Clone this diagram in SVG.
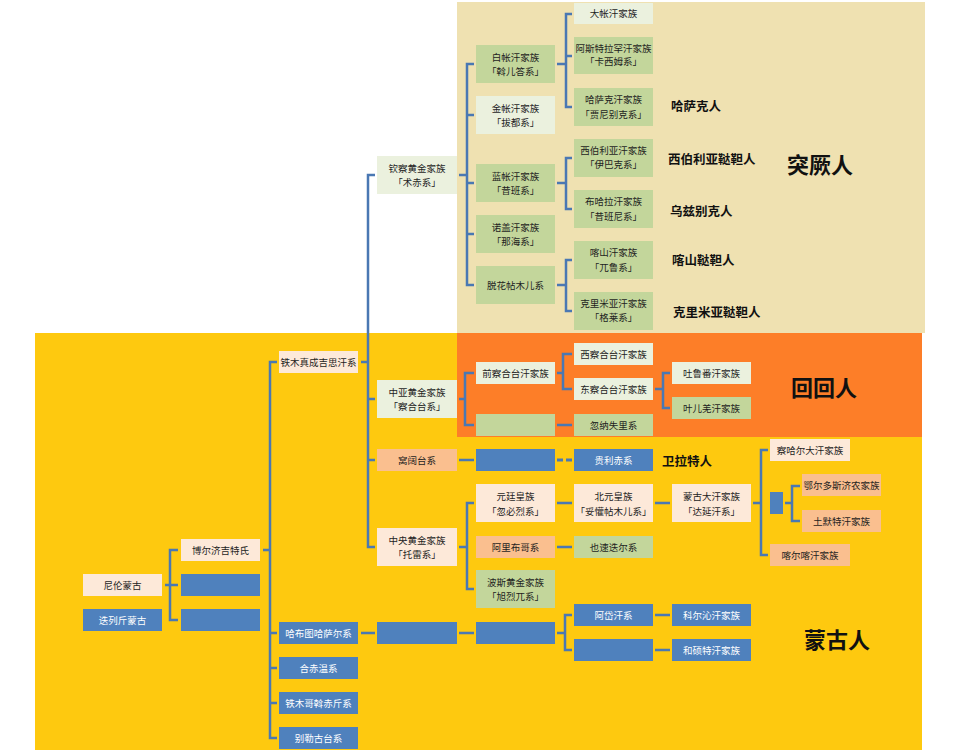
<svg xmlns="http://www.w3.org/2000/svg" width="963" height="752" viewBox="0 0 963 752">
<style>
text{font-family:"Noto Sans CJK SC","Noto Sans",sans-serif;font-size:9.5px;fill:#1e1e1e;text-anchor:middle}
.w{fill:#ffffff}
.lbl{font-size:12.5px;font-weight:bold;text-anchor:start;fill:#111}
.big{font-size:22px;font-weight:bold;fill:#111}
.g{fill:#c3d69b}
.lc{fill:#ebf1de}
.lp{fill:#fde9d9}
.p{fill:#fabf8f}
.b{fill:#4f81bd}
#connectors path{fill:none;stroke:#4a78b3;stroke-width:2.5}
</style>
<g id="backgrounds">
<rect x="0" y="0" width="963" height="752" fill="#ffffff"/>
<rect x="457" y="2" width="468" height="331" fill="#efe1b1"/>
<rect x="35" y="333" width="887" height="417" fill="#fec90f"/>
<rect x="457" y="333" width="465" height="104" fill="#fd7e28"/>
</g>
<g id="connectors">
<path d="M165 585 H178 M178 550 H170 V620 H178"/>
<path d="M263 550 H270 M277 362 H270 V738 H277 M270 633 H277 M270 668 H277 M270 703 H277"/>
<path d="M361 362 H368 M375 175 H368 V547 H375 M368 399 H375 M368 460 H375"/>
<path d="M459 175 H467 M474 64 H467 V285 H474 M467 115 H474 M467 183 H474 M467 234 H474"/>
<path d="M557 64 H566 M572 14 H566 V107 H572 M566 56 H572"/>
<path d="M557 183 H566 M572 158 H566 V209 H572"/>
<path d="M557 285 H566 M572 260 H566 V311 H572"/>
<path d="M459 399 H465 M474 373 H465 V425 H474"/>
<path d="M557 373 H563 M572 354 H563 V389 H572"/>
<path d="M557 425 H572"/>
<path d="M655 389 H663 M670 373 H663 V408 H670"/>
<path d="M459 460 H474"/>
<path d="M557 460 H572" style="stroke-dasharray:6 3;stroke-width:3"/>
<path d="M459 547 H467 M474 503 H467 V589 H474"/>
<path d="M557 503 H572 M655 503 H670 M557 547 H572"/>
<path d="M753 503 H761 M768 450 H761 V555 H768"/>
<path d="M785 503 H792 M800 486 H792 V521 H800"/>
<path d="M361 633 H375 M459 633 H474 M557 633 H565 M572 615 H565 V650 H572 M655 615 H670 M655 650 H670"/>
</g>
<g id="n-niren"><rect class="lp" x="83" y="574" width="79" height="22"/><text x="122.5" y="588.5">尼伦蒙古</text></g>
<g id="n-dielie"><rect class="b" x="83" y="609" width="79" height="22"/><text class="w" x="122.5" y="623.5">迭列斤蒙古</text></g>
<g id="n-boerjijite"><rect class="lp" x="181" y="539" width="79" height="22"/><text x="220.5" y="553.5">博尔济吉特氏</text></g>
<g id="n-blueB1"><rect class="b" x="181" y="574" width="79" height="22"/></g>
<g id="n-blueB2"><rect class="b" x="181" y="609" width="79" height="22"/></g>
<g id="n-temujin"><rect class="lp" x="279" y="351" width="79" height="22"/><text x="318.5" y="365.5">铁木真成吉思汗系</text></g>
<g id="n-habutu"><rect class="b" x="279" y="622" width="79" height="22"/><text class="w" x="318.5" y="636.5">哈布图哈萨尔系</text></g>
<g id="n-hechiwen"><rect class="b" x="279" y="657" width="79" height="22"/><text class="w" x="318.5" y="671.5">合赤温系</text></g>
<g id="n-temuge"><rect class="b" x="279" y="692" width="79" height="22"/><text class="w" x="318.5" y="706.5">铁木哥斡赤斤系</text></g>
<g id="n-belgutei"><rect class="b" x="279" y="727" width="79" height="22"/><text class="w" x="318.5" y="741.5">别勒古台系</text></g>
<g id="n-qincha"><rect class="lc" x="377" y="156" width="80" height="38"/><text x="417" y="171.5">钦察黄金家族</text><text x="417" y="185.5">「术赤系」</text></g>
<g id="n-zhongya"><rect class="lc" x="377" y="380" width="80" height="38"/><text x="417" y="395.5">中亚黄金家族</text><text x="417" y="409.5">「察合台系」</text></g>
<g id="n-wokuotai"><rect class="p" x="377" y="449" width="80" height="22"/><text x="417" y="463.5">窝阔台系</text></g>
<g id="n-tuolei"><rect class="lp" x="377" y="528" width="80" height="38"/><text x="417" y="543.5">中央黄金家族</text><text x="417" y="557.5">「托雷系」</text></g>
<g id="n-blueD"><rect class="b" x="377" y="622" width="80" height="22"/></g>
<g id="n-baizhang"><rect class="g" x="476" y="45" width="79" height="38"/><text x="515.5" y="60.5">白帐汗家族</text><text x="515.5" y="74.5">「斡儿答系」</text></g>
<g id="n-jinzhang"><rect class="lc" x="476" y="96" width="79" height="38"/><text x="515.5" y="111.5">金帐汗家族</text><text x="515.5" y="125.5">「拔都系」</text></g>
<g id="n-lanzhang"><rect class="g" x="476" y="164" width="79" height="38"/><text x="515.5" y="179.5">蓝帐汗家族</text><text x="515.5" y="193.5">「昔班系」</text></g>
<g id="n-nuogai"><rect class="g" x="476" y="215" width="79" height="38"/><text x="515.5" y="230.5">诺盖汗家族</text><text x="515.5" y="244.5">「那海系」</text></g>
<g id="n-tuohua"><rect class="g" x="476" y="266" width="79" height="38"/><text x="515.5" y="288.5">脱花帖木儿系</text></g>
<g id="n-qianchahetai"><rect class="lc" x="476" y="362" width="79" height="22"/><text x="515.5" y="376.5">前察合台汗家族</text></g>
<g id="n-greenE"><rect class="g" x="476" y="414" width="79" height="22"/></g>
<g id="n-blueE1"><rect class="b" x="476" y="449" width="79" height="22"/></g>
<g id="n-yuanting"><rect class="lp" x="476" y="484" width="79" height="38"/><text x="515.5" y="499.5">元廷皇族</text><text x="515.5" y="514.5">「忽必烈系」</text></g>
<g id="n-alibuge"><rect class="p" x="476" y="536" width="79" height="22"/><text x="515.5" y="550.5">阿里布哥系</text></g>
<g id="n-bosi"><rect class="g" x="476" y="570" width="79" height="38"/><text x="515.5" y="585.5">波斯黄金家族</text><text x="515.5" y="599.5">「旭烈兀系」</text></g>
<g id="n-blueE2"><rect class="b" x="476" y="622" width="79" height="22"/></g>
<g id="n-dazhang"><rect class="lc" x="574" y="3" width="79" height="21"/><text x="613.5" y="17">大帐汗家族</text></g>
<g id="n-asite"><rect class="g" x="574" y="37" width="79" height="37"/><text x="613.5" y="52">阿斯特拉罕汗家族</text><text x="613.5" y="65">「卡西姆系」</text></g>
<g id="n-hasake"><rect class="g" x="574" y="88" width="79" height="38"/><text x="613.5" y="103">哈萨克汗家族</text><text x="613.5" y="118">「贾尼别克系」</text></g>
<g id="n-xiboliya"><rect class="g" x="574" y="139" width="79" height="38"/><text x="613.5" y="154">西伯利亚汗家族</text><text x="613.5" y="167.5">「伊巴克系」</text></g>
<g id="n-buhala"><rect class="g" x="574" y="190" width="79" height="38"/><text x="613.5" y="205">布哈拉汗家族</text><text x="613.5" y="220">「昔班尼系」</text></g>
<g id="n-kashan"><rect class="g" x="574" y="241" width="79" height="38"/><text x="613.5" y="256">喀山汗家族</text><text x="613.5" y="271">「兀鲁系」</text></g>
<g id="n-kelimiya"><rect class="g" x="574" y="292" width="79" height="38"/><text x="613.5" y="307">克里米亚汗家族</text><text x="613.5" y="320.5">「格莱系」</text></g>
<g id="n-xichahetai"><rect class="lc" x="574" y="343" width="79" height="22"/><text x="613.5" y="357.5">西察合台汗家族</text></g>
<g id="n-dongchahetai"><rect class="lc" x="574" y="378" width="79" height="22"/><text x="613.5" y="392.5">东察合台汗家族</text></g>
<g id="n-hunashili"><rect class="g" x="574" y="414" width="79" height="22"/><text x="613.5" y="428.5">忽纳失里系</text></g>
<g id="n-guilichi"><rect class="b" x="574" y="449" width="79" height="22"/><text class="w" x="613.5" y="463.5">贵利赤系</text></g>
<g id="n-beiyuan"><rect class="lp" x="574" y="484" width="79" height="38"/><text x="613.5" y="499.5">北元皇族</text><text x="613.5" y="514.5">「妥懽帖木儿系」</text></g>
<g id="n-yesudier"><rect class="g" x="574" y="536" width="79" height="22"/><text x="613.5" y="550.5">也速迭尔系</text></g>
<g id="n-adai"><rect class="b" x="574" y="604" width="79" height="22"/><text class="w" x="613.5" y="618.5">阿岱汗系</text></g>
<g id="n-blueF"><rect class="b" x="574" y="639" width="79" height="22"/></g>
<g id="n-tulufan"><rect class="lc" x="672" y="362" width="79" height="22"/><text x="711.5" y="376.5">吐鲁番汗家族</text></g>
<g id="n-yeerqiang"><rect class="g" x="672" y="397" width="79" height="22"/><text x="711.5" y="411.5">叶儿羌汗家族</text></g>
<g id="n-mengguda"><rect class="lp" x="672" y="484" width="79" height="38"/><text x="711.5" y="499.5">蒙古大汗家族</text><text x="711.5" y="514.5">「达延汗系」</text></g>
<g id="n-keerqin"><rect class="b" x="672" y="604" width="79" height="22"/><text class="w" x="711.5" y="618.5">科尔沁汗家族</text></g>
<g id="n-heshuote"><rect class="b" x="672" y="639" width="79" height="22"/><text class="w" x="711.5" y="653.5">和硕特汗家族</text></g>
<g id="n-chahaer"><rect class="lp" x="770" y="439" width="80" height="22"/><text x="810" y="453.5">察哈尔大汗家族</text></g>
<g id="n-smallblue"><rect class="b" x="770" y="492" width="13" height="22"/></g>
<g id="n-kaerka"><rect class="p" x="770" y="544" width="80" height="22"/><text x="810" y="558.5">喀尔喀汗家族</text></g>
<g id="n-eerduosi"><rect class="p" x="802" y="474" width="79" height="22"/><text x="841.5" y="488.5">鄂尔多斯济农家族</text></g>
<g id="n-tumote"><rect class="p" x="802" y="510" width="79" height="22"/><text x="841.5" y="524.5">土默特汗家族</text></g>
<g id="labels">
<text class="lbl" x="671" y="110.5">哈萨克人</text>
<text class="lbl" x="668" y="163.5">西伯利亚鞑靼人</text>
<text class="lbl" x="670" y="215.5">乌兹别克人</text>
<text class="lbl" x="672" y="264.5">喀山鞑靼人</text>
<text class="lbl" x="673" y="316.5">克里米亚鞑靼人</text>
<text class="lbl" x="662" y="465.5">卫拉特人</text>
<text class="big" x="820" y="173">突厥人</text>
<text class="big" x="824" y="396">回回人</text>
<text class="big" x="837" y="648">蒙古人</text>
</g>
</svg>
